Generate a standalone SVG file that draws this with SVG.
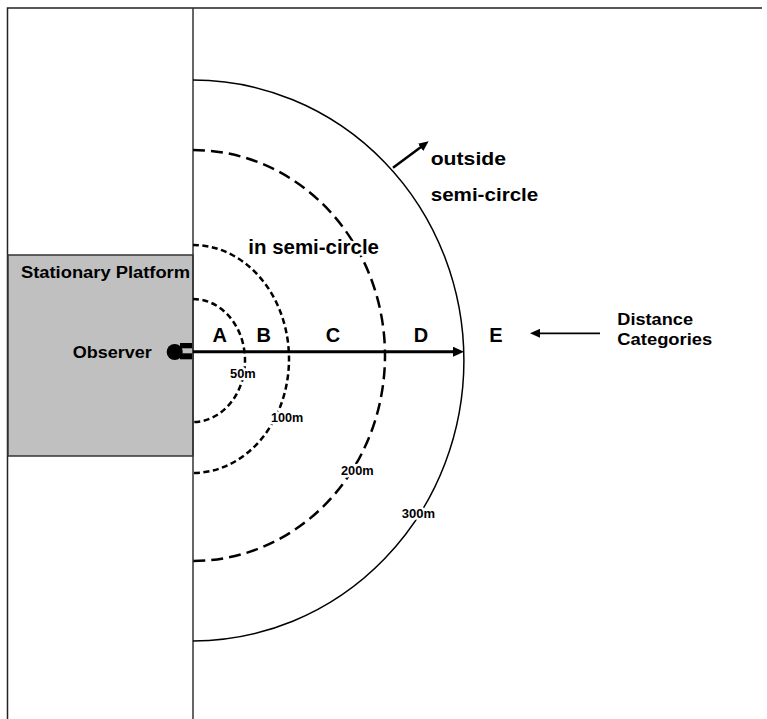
<svg xmlns="http://www.w3.org/2000/svg" width="767" height="719" viewBox="0 0 767 719">
<style>
text{font-family:"Liberation Sans",Arial,sans-serif;font-weight:bold;fill:#000}
.lbl{stroke:#fff;stroke-width:5;paint-order:stroke;stroke-linejoin:round}
.frame{fill:none;stroke:#222;stroke-width:1.5}
.short{fill:none;stroke:#000;stroke-width:2.5;stroke-dasharray:6 3.5}
.long{fill:none;stroke:#000;stroke-width:2.5;stroke-dasharray:12 6}
.solid{fill:none;stroke:#000;stroke-width:1.5}
</style>
<defs>
<marker id="ah" markerWidth="12" markerHeight="10" refX="3" refY="5" orient="auto" markerUnits="userSpaceOnUse">
<path d="M0,0 L11,5 L0,10 z" fill="#000"/>
</marker>
<marker id="ahs" markerWidth="11" markerHeight="9" refX="3" refY="4.5" orient="auto" markerUnits="userSpaceOnUse">
<path d="M0,0 L10,4.5 L0,9 z" fill="#000"/>
</marker>
</defs>
<rect width="767" height="719" fill="#fff"/>
<g id="frame">
<path class="frame" d="M7.5,719 V8 H762"/>
</g>
<g id="platform">
<rect x="8" y="255" width="185" height="201" fill="#c0c0c0" stroke="#333" stroke-width="1.5"/>
<text x="21" y="277.5" font-size="16" textLength="169" lengthAdjust="spacingAndGlyphs">Stationary Platform</text>
</g>
<g id="divider">
<line x1="193" y1="8" x2="193" y2="719" stroke="#333" stroke-width="1.5"/>
</g>
<g id="rings">
<path id="r300" class="solid" d="M193,80 A271,280.5 0 0 1 193,641"/>
<path id="r200" class="long" d="M193,150 A192,205.5 0 0 1 193,561"/>
<path id="r100" class="short" d="M193,245 A96,114 0 0 1 193,473"/>
<path id="r50" class="short" d="M193,299 A52,61.5 0 0 1 193,422"/>
</g>
<g id="connectors">
<line x1="193" y1="351.7" x2="456" y2="351.7" stroke="#000" stroke-width="3" marker-end="url(#ah)"/>
<line x1="393" y1="167.7" x2="423" y2="145.5" stroke="#000" stroke-width="2.5" marker-end="url(#ahs)"/>
<line x1="600" y1="333.3" x2="537" y2="333.3" stroke="#000" stroke-width="1.8" marker-end="url(#ahs)"/>
</g>
<g id="observer">
<circle cx="174.7" cy="352" r="8" fill="#000"/>
<rect x="180" y="343" width="12" height="5.3" fill="#000"/>
<rect x="180" y="353.3" width="12" height="6" fill="#000"/>
<text x="72.7" y="358.3" font-size="16" textLength="79" lengthAdjust="spacingAndGlyphs">Observer</text>
</g>
<g id="categories" font-size="20" text-anchor="middle">
<text x="219.7" y="341.7" font-size="20">A</text>
<text x="263.7" y="341.7" font-size="20">B</text>
<text x="333" y="341.7" font-size="20">C</text>
<text x="421" y="341.7" font-size="20">D</text>
<text x="496" y="341.7" font-size="20">E</text>
</g>
<g id="distances">
<text class="lbl" x="230" y="378.3" font-size="13" textLength="25.7" lengthAdjust="spacingAndGlyphs">50m</text>
<text class="lbl" x="271" y="421.7" font-size="13" textLength="32.3" lengthAdjust="spacingAndGlyphs">100m</text>
<text class="lbl" x="341" y="475" font-size="13" textLength="32.7" lengthAdjust="spacingAndGlyphs">200m</text>
<text class="lbl" x="401.7" y="518.3" font-size="13" textLength="33.3" lengthAdjust="spacingAndGlyphs">300m</text>
</g>
<g id="in-label">
<text class="lbl" x="248.3" y="254.3" font-size="20" textLength="130.7" lengthAdjust="spacingAndGlyphs">in semi-circle</text>
</g>
<g id="out-label">
<text x="430.7" y="165" font-size="19" textLength="75.3" lengthAdjust="spacingAndGlyphs">outside</text>
<text x="430.7" y="201" font-size="19" textLength="107.6" lengthAdjust="spacingAndGlyphs">semi-circle</text>
</g>
<g id="legend">
<text x="617.3" y="325" font-size="17" textLength="75.7" lengthAdjust="spacingAndGlyphs">Distance</text>
<text x="617.3" y="345" font-size="17" textLength="95" lengthAdjust="spacingAndGlyphs">Categories</text>
</g>
</svg>
